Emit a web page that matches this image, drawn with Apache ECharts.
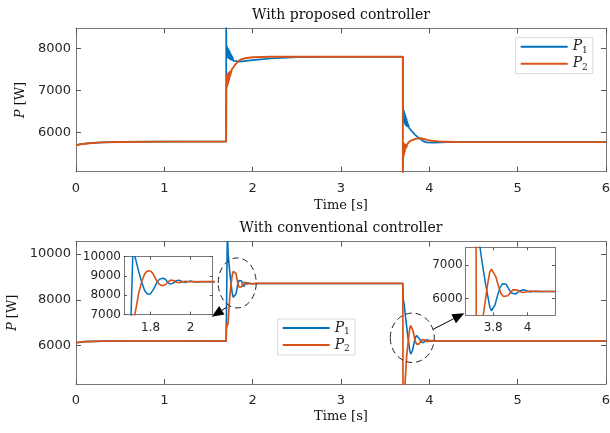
<!DOCTYPE html>
<html><head><meta charset="utf-8">
<script src="https://cdn.jsdelivr.net/npm/echarts@6/dist/echarts.min.js"></script>
<style>html,body{margin:0;padding:0;background:#fff}#c{width:610px;height:433px}</style>
</head><body><div id="c"></div>
<script>
// ---------------- data (time [s], power [W]) ----------------
const topP1 = [[0,5690],[0.05,5715],[0.15,5740],[0.3,5760],[0.5,5770],[1.0,5778],[1.7,5780],
 [1.7005,8600],[1.703,7950],[1.706,8060],[1.709,7790],[1.712,8040],[1.715,7780],[1.718,8010],[1.721,7770],[1.724,7990],[1.727,7760],[1.73,7970],[1.733,7750],[1.736,7950],[1.739,7740],[1.742,7920],[1.745,7730],[1.748,7890],[1.751,7720],[1.755,7860],[1.76,7720],[1.765,7830],[1.77,7710],[1.775,7790],[1.78,7700],[1.79,7740],[1.80,7700],[1.82,7695],[1.85,7685],[1.9,7695],[2.0,7720],[2.2,7760],[2.5,7790],[2.8,7800],[3.7,7800],
 [3.7005,6500],[3.703,6560],[3.706,6260],[3.709,6530],[3.712,6230],[3.715,6500],[3.718,6210],[3.721,6460],[3.724,6190],[3.727,6420],[3.73,6170],[3.734,6380],[3.738,6150],[3.742,6330],[3.746,6130],[3.75,6270],[3.755,6120],[3.76,6200],[3.77,6110],[3.78,6100],[3.80,6030],[3.84,5940],[3.89,5850],[3.93,5790],[3.97,5760],[4.05,5755],[4.2,5763],[4.5,5765],[6,5765]];
const topP2 = [[0,5690],[0.05,5715],[0.15,5740],[0.3,5760],[0.5,5770],[1.0,5778],[1.7,5780],
 [1.702,7000],[1.704,7060],[1.707,7380],[1.71,7080],[1.713,7400],[1.716,7120],[1.719,7410],[1.722,7160],[1.725,7420],[1.728,7200],[1.731,7430],[1.734,7250],[1.737,7440],[1.74,7300],[1.744,7460],[1.748,7350],[1.752,7470],[1.757,7420],[1.762,7490],[1.77,7500],[1.78,7545],[1.80,7610],[1.83,7680],[1.86,7730],[1.91,7765],[2.0,7790],[2.2,7800],[3.7,7800],
 [3.7005,4900],[3.703,5380],[3.706,5760],[3.709,5420],[3.712,5740],[3.715,5470],[3.718,5730],[3.722,5530],[3.726,5720],[3.73,5590],[3.735,5710],[3.74,5640],[3.75,5715],[3.76,5740],[3.78,5790],[3.80,5825],[3.85,5850],[3.90,5858],[3.95,5835],[4.0,5805],[4.1,5782],[4.3,5768],[6,5765]];
const botP1 = [[0,6130],[0.1,6175],[0.3,6198],[0.7,6212],[1.2,6210],[1.7,6200],
 [1.713,10800],[1.716,10900],[1.722,10000],[1.74,9250],[1.755,8700],[1.77,8250],[1.78,8110],[1.79,8050],[1.80,8090],[1.81,8250],[1.82,8430],[1.833,8700],[1.845,8840],[1.863,8890],[1.875,8820],[1.885,8680],[1.897,8580],[1.91,8620],[1.925,8740],[1.94,8790],[1.955,8730],[1.97,8670],[1.985,8700],[2.0,8740],[2.015,8700],[2.03,8690],[2.05,8710],[2.5,8710],[3.7,8710],
 [3.705,8000],[3.715,7800],[3.723,7520],[3.738,7000],[3.755,6450],[3.771,6000],[3.78,5750],[3.79,5635],[3.80,5680],[3.81,5800],[3.826,6100],[3.84,6330],[3.855,6440],[3.864,6457],[3.875,6420],[3.89,6290],[3.905,6160],[3.916,6110],[3.93,6130],[3.95,6210],[3.974,6258],[3.99,6235],[4.01,6195],[4.03,6205],[4.05,6215],[4.08,6210],[5,6210],[6,6210]];
const botP2 = [[0,6130],[0.1,6175],[0.3,6198],[0.7,6212],[1.2,6210],[1.7,6200],
 [1.704,7000],[1.708,6800],[1.715,6750],[1.72,6950],[1.73,7500],[1.74,8100],[1.755,8700],[1.77,9100],[1.78,9230],[1.79,9270],[1.80,9250],[1.81,9150],[1.82,8960],[1.833,8700],[1.845,8560],[1.86,8500],[1.875,8560],[1.89,8720],[1.90,8790],[1.915,8770],[1.93,8680],[1.945,8660],[1.96,8700],[1.975,8730],[1.99,8705],[2.05,8710],[2.5,8710],[3.7,8710],
 [3.702,4100],[3.72,4000],[3.735,5000],[3.742,5500],[3.756,6000],[3.77,6500],[3.78,6780],[3.79,6870],[3.80,6830],[3.815,6650],[3.83,6380],[3.845,6150],[3.86,6060],[3.87,6041],[3.885,6080],[3.90,6170],[3.915,6260],[3.926,6279],[3.94,6255],[3.955,6210],[3.974,6178],[3.99,6190],[4.01,6220],[4.03,6215],[4.06,6205],[4.2,6210],[6,6210]];

const xTicks = [0,1,2,3,4,5,6];
const topYTicks = [6000,7000,8000];
const botYTicks = [6000,8000,10000];
const in1XTicks = [1.8,2];
const in1YTicks = [7000,8000,9000,10000];
const in2XTicks = [3.8,4];
const in2YTicks = [6000,7000];
const seriesNames = ['P1','P2'];
const titles = ['With proposed controller','With conventional controller'];
const xName = 'Time [s]';
const yName = '{i|P} [W]';

// ---------------- styling ----------------
const BLUE = '#0072BD', ORANGE = '#D95319';
const AX = '#777', TXT = '#262626';
const SANS = 'DejaVu Sans', SERIF = 'DejaVu Serif';

function axis(type, o) {
  const ticks = o.ticks;
  return {
    type: 'value', gridIndex: o.grid, position: o.pos, min: o.min, max: o.max,
    splitLine: {show: false},
    axisLine: {show: true, onZero: false, lineStyle: {color: AX, width: 1}},
    axisTick: {show: true, inside: true, length: o.tl || 5, customValues: ticks, lineStyle: {color: '#555', width: 1}},
    axisLabel: {show: !!o.label, customValues: ticks, formatter: v => String(v),
      fontFamily: SANS, fontSize: o.fs || 13, color: TXT, margin: o.margin || 8},
    name: o.name || '', nameLocation: 'middle', nameGap: o.nameGap || 0,
    nameTextStyle: {fontFamily: SERIF, fontSize: o.nfs || 13, color: '#111',
      rich: {i: {fontFamily: SERIF, fontStyle: 'italic', fontSize: 13, color: '#111'}}}
  };
}

const grids = [
  {left: 76, top: 28.3, width: 530, height: 143.4},
  {left: 76, top: 241.7, width: 530, height: 142.3},
  {left: 124, top: 256.7, width: 88.7, height: 58, show: true, backgroundColor: '#fff', borderWidth: 0},
  {left: 465.7, top: 247.3, width: 89.3, height: 68, show: true, backgroundColor: '#fff', borderWidth: 0}
].map(g => Object.assign({outerBoundsMode: 'none', containLabel: false}, g));

const xAxes = [
  axis('x', {grid: 0, pos: 'bottom', min: 0, max: 6, ticks: xTicks, label: true, margin: 10, name: xName, nameGap: 27}),
  axis('x', {grid: 0, pos: 'top', min: 0, max: 6, ticks: xTicks, name: titles[0], nameGap: 6, nfs: 14}),
  axis('x', {grid: 1, pos: 'bottom', min: 0, max: 6, ticks: xTicks, label: true, margin: 10, name: xName, nameGap: 26}),
  axis('x', {grid: 1, pos: 'top', min: 0, max: 6, ticks: xTicks, name: titles[1], nameGap: 6, nfs: 14}),
  axis('x', {grid: 2, pos: 'bottom', min: 1.667, max: 2.11, ticks: in1XTicks, label: true, fs: 12, tl: 3, margin: 7}),
  axis('x', {grid: 2, pos: 'top', min: 1.667, max: 2.11, ticks: in1XTicks, tl: 3}),
  axis('x', {grid: 3, pos: 'bottom', min: 3.64, max: 4.16, ticks: in2XTicks, label: true, fs: 12, tl: 3, margin: 7}),
  axis('x', {grid: 3, pos: 'top', min: 3.64, max: 4.16, ticks: in2XTicks, tl: 3})
];
const yAxes = [
  axis('y', {grid: 0, pos: 'left', min: 5060, max: 8480, ticks: topYTicks, label: true, margin: 5, name: yName, nameGap: 41}),
  axis('y', {grid: 0, pos: 'right', min: 5060, max: 8480, ticks: topYTicks}),
  axis('y', {grid: 1, pos: 'left', min: 4330, max: 10530, ticks: botYTicks, label: true, margin: 5, name: yName, nameGap: 50}),
  axis('y', {grid: 1, pos: 'right', min: 4330, max: 10530, ticks: botYTicks}),
  axis('y', {grid: 2, pos: 'left', min: 7000, max: 10000, ticks: in1YTicks, label: true, fs: 12, tl: 3, margin: 3}),
  axis('y', {grid: 2, pos: 'right', min: 7000, max: 10000, ticks: in1YTicks, tl: 3}),
  axis('y', {grid: 3, pos: 'left', min: 5500, max: 7520, ticks: in2YTicks, label: true, fs: 12, tl: 3, margin: 3}),
  axis('y', {grid: 3, pos: 'right', min: 5500, max: 7520, ticks: in2YTicks, tl: 3})
];

function line(name, data, ax, color, w) {
  return {type: 'line', name: name, data: data, xAxisIndex: ax, yAxisIndex: ax,
    showSymbol: false, symbol: 'none', clip: true, animation: false, silent: true,
    lineStyle: {color: color, width: w}, itemStyle: {color: color}, z: color === ORANGE ? 3 : 2};
}
const series = [
  line(seriesNames[0], topP1, 0, BLUE, 1.7), line(seriesNames[1], topP2, 0, ORANGE, 1.9),
  line(seriesNames[0], botP1, 2, BLUE, 1.6), line(seriesNames[1], botP2, 2, ORANGE, 1.7),
  line(seriesNames[0], botP1, 4, BLUE, 1.5), line(seriesNames[1], botP2, 4, ORANGE, 1.6),
  line(seriesNames[0], botP1, 6, BLUE, 1.5), line(seriesNames[1], botP2, 6, ORANGE, 1.6)
];

function legend(left, top) {
  return {data: seriesNames, orient: 'vertical', left: left, top: top, icon: 'rect',
    itemWidth: 47, itemHeight: 2, itemGap: 2, padding: [2, 5, 2, 5], selectedMode: false,
    borderColor: '#d9d9d9', borderWidth: 1, backgroundColor: '#fff',
    formatter: n => '{i|P}{s|' + n.slice(1) + '}',
    textStyle: {rich: {
      i: {fontFamily: SERIF, fontStyle: 'italic', fontSize: 14, color: '#222'},
      s: {fontFamily: SERIF, fontSize: 9, color: '#222', padding: [7, 0, 0, 0]}}}};
}

const chart = echarts.init(document.getElementById('c'), null, {renderer: 'canvas'});
chart.setOption({
  animation: false, backgroundColor: '#fff', color: [BLUE, ORANGE],
  grid: grids, xAxis: xAxes, yAxis: yAxes, series: series,
  legend: [legend(515.7, 37.7), legend(277.7, 319)]
});

// ---------------- annotations (dashed ellipses + arrows) ----------------
const ellipses = [{c: [1.825, 8734], rx: 19, ry: 25}, {c: [3.807, 6344], rx: 22, ry: 24.7}];
const arrows = [{from: [1.706, 7674], to: [1.536, 7264]}, {from: [4.045, 6715], to: [4.396, 7413]}];
const px = p => chart.convertToPixel({xAxisIndex: 2, yAxisIndex: 2}, p);
const gfx = [];
ellipses.forEach(e => {
  const c = px(e.c);
  gfx.push({type: 'ellipse', shape: {cx: c[0], cy: c[1], rx: e.rx, ry: e.ry}, z: 50,
    style: {fill: null, stroke: '#222', lineWidth: 1, lineDash: [6, 4]}});
});
arrows.forEach(a => {
  const s = px(a.from), t = px(a.to);
  const dx = t[0] - s[0], dy = t[1] - s[1], L = Math.hypot(dx, dy);
  const ux = dx / L, uy = dy / L, hl = 12, hw = 5;
  const bx = t[0] - ux * hl, by = t[1] - uy * hl;
  gfx.push({type: 'line', shape: {x1: s[0], y1: s[1], x2: bx, y2: by}, z: 50, style: {stroke: '#000', lineWidth: 1}});
  gfx.push({type: 'polygon', z: 50, shape: {points: [[t[0], t[1]], [bx - uy * hw, by + ux * hw], [bx + uy * hw, by - ux * hw]]},
    style: {fill: '#000'}});
});
chart.setOption({graphic: gfx});
</script></body></html>
